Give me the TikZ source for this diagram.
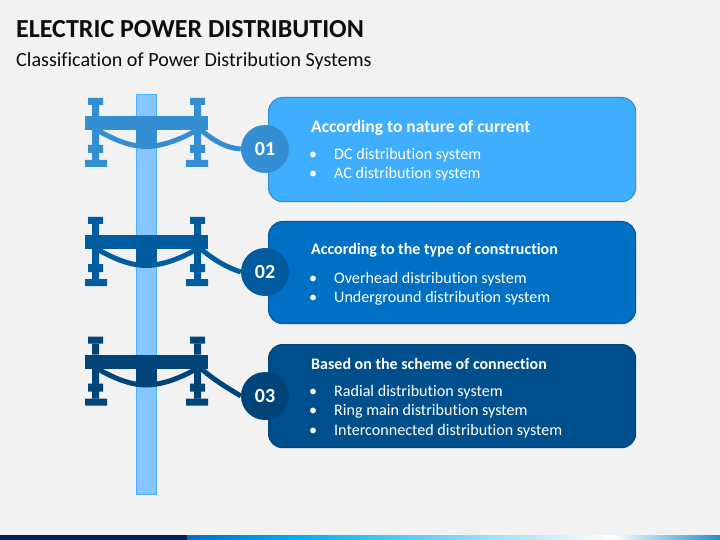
\documentclass[tikz,border=0pt]{standalone}
\usepackage{fontspec}
\setmainfont[Ligatures=NoCommon]{Carlito}
\definecolor{pagebg}{HTML}{F2F2F2}
\definecolor{polefill}{HTML}{85C6FF}
\definecolor{poleedge}{HTML}{4DB2FF}
\definecolor{headtext}{HTML}{0D0D0D}
\definecolor{fillA}{HTML}{3FAEFF}
\definecolor{edgeA}{HTML}{338FD1}
\definecolor{fillB}{HTML}{0070C4}
\definecolor{edgeB}{HTML}{005C9F}
\definecolor{fillC}{HTML}{004F8D}
\definecolor{edgeC}{HTML}{00447A}
\definecolor{barA}{HTML}{002060}
\definecolor{barB}{HTML}{0070C0}
\definecolor{barC}{HTML}{00B0F0}
\definecolor{barD}{HTML}{1F90D0}
\newcommand{\bull}{\makebox[23pt][l]{\hspace{-2pt}•}}
\tikzset{
  infobox/.style={draw, line width=1.2pt, rounded corners=14pt, minimum width=367pt, anchor=north west, inner sep=0pt},
  numdot/.style={circle, minimum size=48pt, inner sep=0pt, text=white, font=\fontsize{20}{20}\selectfont\bfseries},
  boxhead/.style={anchor=west, text=white, inner sep=0pt, font=\fontsize{16}{18}\selectfont\bfseries},
  boxline/.style={anchor=west, text=white, inner sep=0pt, font=\fontsize{16.1}{18}\selectfont},
  wire/.style={line width=5pt}
}
\begin{document}
\begin{tikzpicture}[x=1pt,y=-1pt]
  \useasboundingbox (0,0) rectangle (720,540);
  \fill [pagebg] (0,0) rectangle (720,540);
  % bottom strip
  \fill [barA] (0,535) rectangle (187,540);
  \shade [left color=barB, right color=barC] (187,535) rectangle (300,540);
  \shade [left color=barC, right color=white] (300,535) rectangle (612,540);
  \shade [left color=white, right color=barD] (612,535) rectangle (720,540);
  % titles
  \node [anchor=west, inner sep=0pt, text=headtext, font=\fontsize{26}{30}\selectfont\bfseries] (title) at (16,29) {ELECTRIC POWER DISTRIBUTION};
  \node [anchor=west, inner sep=0pt, text=headtext, font=\fontsize{20.1}{24}\selectfont] (subtitle) at (16,61) {Classification of Power Distribution Systems};
  % the upright
  \draw [poleedge, fill=polefill] (136.5,94.5) rectangle (156.5,494.5);
  % three cross arms
  \foreach \n/\dy/\col in {1/0/edgeA, 2/119/edgeB, 3/238.5/edgeC}{
    \begin{scope}[yshift=-\dy pt]
      \fill [\col] (85,116) rectangle (208,130);
      \fill [\col] (136,130) rectangle (157,148);
      \fill [\col] (88,98) rectangle (103,105) (190,98) rectangle (205,105);
      \fill [\col] (92,105) rectangle (99,116) (194,105) rectangle (201,116);
      \fill [\col] (92,130) rectangle (99,160) (194,130) rectangle (201,160);
      \fill [\col] (88,145) rectangle (103,153) (190,145) rectangle (205,153);
      \fill [\col] (85,160) rectangle (107,167) (186,160) rectangle (208,167);
      \draw [wire, \col] (97,130) .. controls (116,141) and (132,146.5) .. (146,146.5) .. controls (160,146.5) and (178,141) .. (197,130);
      \coordinate (arm\n) at (201,130);
    \end{scope}
  }
  % info boxes
  \node [infobox, draw=edgeA, fill=fillA, minimum height=104pt] (boxA) at (268,97) {};
  \node [infobox, draw=edgeB, fill=fillB, minimum height=102pt] (boxB) at (268,221) {};
  \node [infobox, draw=edgeC, fill=fillC, minimum height=103pt] (boxC) at (268,344) {};
  % number discs
  \node [numdot, fill=edgeA] (dotA) at (265,149) {01};
  \node [numdot, fill=edgeB] (dotB) at (265,272) {02};
  \node [numdot, fill=edgeC] (dotC) at (265,396) {03};
  \draw [wire, edgeA] (arm1) .. controls (214,141) and (226,148) .. (dotA.west);
  \draw [wire, edgeB] (arm2) .. controls (214,260) and (226,267) .. (dotB.west);
  \draw [wire, edgeC] (arm3) .. controls (214,380) and (226,387) .. (dotC.west);
  % box texts
  \node [boxhead, font=\fontsize{17.5}{20}\selectfont\bfseries] (headA) at (311,128) {According to nature of current};
  \node [boxline] (a1) at (311,155) {\bull DC distribution system};
  \node [boxline] (a2) at (311,174) {\bull AC distribution system};
  \node [boxhead] (headB) at (311,250) {According to the type of construction};
  \node [boxline] (b1) at (311,279) {\bull Overhead distribution system};
  \node [boxline] (b2) at (311,298) {\bull Underground distribution system};
  \node [boxhead] (headC) at (311,363.5) {Based on the scheme of connection};
  \node [boxline] (c1) at (311,392) {\bull Radial distribution system};
  \node [boxline] (c2) at (311,411) {\bull Ring main distribution system};
  \node [boxline] (c3) at (311,431) {\bull Interconnected distribution system};
\end{tikzpicture}
\end{document}
